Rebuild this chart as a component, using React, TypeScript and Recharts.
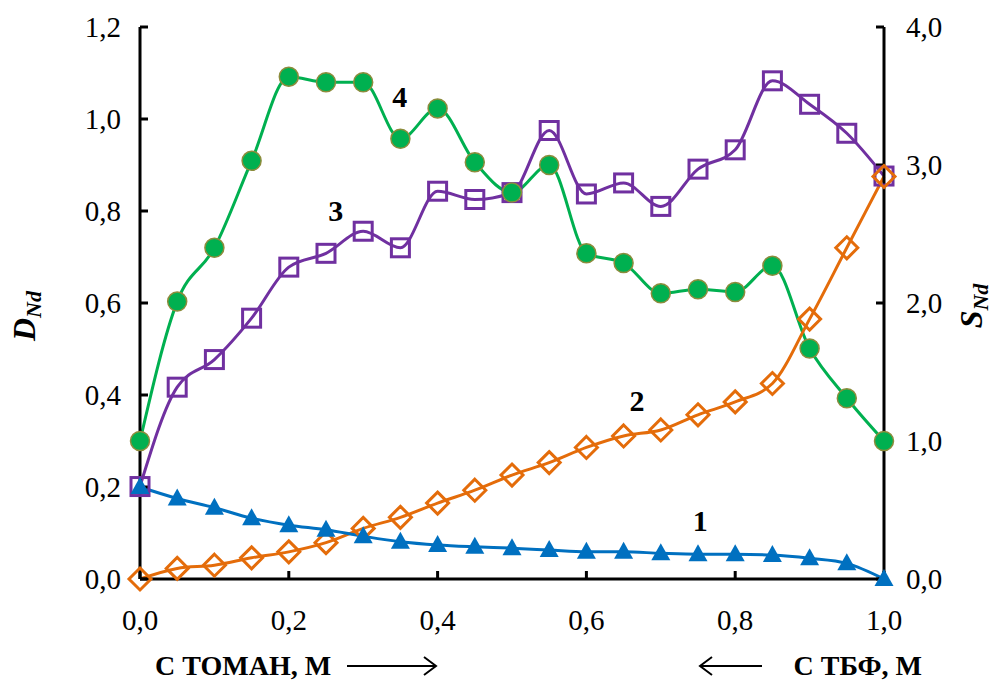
import React from 'react';
import { LineChart, Line, XAxis, YAxis, ReferenceDot } from 'recharts';

// С ТОМАН, М (0 -> 1), С ТБФ = 1 - С ТОМАН
const conc = [0, 0.05, 0.1, 0.15, 0.2, 0.25, 0.3, 0.35, 0.4, 0.45, 0.5, 0.55, 0.6, 0.65, 0.7, 0.75, 0.8, 0.85, 0.9, 0.95, 1.0];

// D_Nd (left axis)
const dNd1 = [0.2, 0.175, 0.155, 0.132, 0.117, 0.107, 0.093, 0.081, 0.074, 0.07, 0.067, 0.063, 0.059, 0.059, 0.056, 0.054, 0.054, 0.052, 0.045, 0.034, 0.0];
const dNd2 = [0.0, 0.023, 0.03, 0.046, 0.059, 0.079, 0.11, 0.134, 0.165, 0.193, 0.226, 0.253, 0.286, 0.311, 0.324, 0.357, 0.385, 0.425, 0.565, 0.72, 0.875];

// S_Nd (right axis)
const sNd3 = [0.67, 1.39, 1.59, 1.89, 2.26, 2.36, 2.52, 2.4, 2.81, 2.75, 2.8, 3.25, 2.79, 2.87, 2.7, 2.97, 3.11, 3.61, 3.44, 3.23, 2.92];
const sNd4 = [1.0, 2.01, 2.4, 3.03, 3.64, 3.6, 3.6, 3.19, 3.41, 3.02, 2.8, 3.0, 2.36, 2.29, 2.07, 2.1, 2.08, 2.27, 1.67, 1.31, 1.0];

const xTicks = [0, 0.2, 0.4, 0.6, 0.8, 1.0];
const leftTicks = [0, 0.2, 0.4, 0.6, 0.8, 1.0, 1.2];
const rightTicks = [0, 1, 2, 3, 4];

const data = conc.map((c, i) => ({
  c,
  d1: dNd1[i],
  d2: dNd2[i],
  s3: sNd3[i],
  s4: sNd4[i],
}));

const FONT = '"Liberation Serif", "Times New Roman", serif';
const fmt = (v: number) => v.toFixed(1).replace('.', ',');
const tickStyle = { fontFamily: FONT, fontSize: 29, fill: '#000' };
const axisLine = { stroke: '#000', strokeWidth: 3 };

const GREEN = '#00B050';
const PURPLE = '#7030A0';
const ORANGE = '#E46C0A';
const BLUE = '#0070C0';

const CircleDot = (p: any) => (
  <circle key={`c${p.index}`} cx={p.cx} cy={p.cy} r={9.5} fill={GREEN} stroke="#8C8C3C" strokeWidth={1.5} />
);
const SquareDot = (p: any) => (
  <rect key={`s${p.index}`} x={p.cx - 9} y={p.cy - 9} width={18} height={18} fill="none" stroke={PURPLE} strokeWidth={3} />
);
const DiamondDot = (p: any) => (
  <path
    key={`d${p.index}`}
    d={`M${p.cx},${p.cy - 11}L${p.cx + 11},${p.cy}L${p.cx},${p.cy + 11}L${p.cx - 11},${p.cy}Z`}
    fill="none"
    stroke={ORANGE}
    strokeWidth={3}
  />
);
const TriangleDot = (p: any) => (
  <path
    key={`t${p.index}`}
    d={`M${p.cx},${p.cy - 10}L${p.cx + 9.5},${p.cy + 7}L${p.cx - 9.5},${p.cy + 7}Z`}
    fill={BLUE}
  />
);

const seriesLabel = (txt: string) => (p: any) => (
  <text x={p.cx} y={p.cy} textAnchor="middle" dominantBaseline="central" fontFamily={FONT} fontSize={30} fontWeight="bold" fill="#000">
    {txt}
  </text>
);

const YLabel = (main: string, bx: number, cy: number) => () => (
  <text x={bx} y={cy} transform={`rotate(-90 ${bx} ${cy})`} textAnchor="middle" fontFamily={FONT} fontWeight="bold" fontStyle="italic" fill="#000">
    <tspan fontSize={32}>{main}</tspan>
    <tspan fontSize={22} dy={6}>Nd</tspan>
  </text>
);

const XLabel = () => (
  <g fontFamily={FONT} fontWeight="bold" fontSize={28} fill="#000">
    <text x={155} y={675}>С ТОМАН, М</text>
    <path d="M347,666 L435,666 M424,657 L436,666 L424,675" stroke="#000" strokeWidth={2} fill="none" />
    <text x={922} y={675} textAnchor="end">С ТБФ, М</text>
    <path d="M762,666 L701,666 M712,657 L700,666 L712,675" stroke="#000" strokeWidth={2} fill="none" />
  </g>
);

export default function App() {
  return (
    <div style={{ position: 'absolute', left: 0, top: 0, width: 1002, height: 684, background: '#fff' }}>
      <LineChart width={1002} height={684} data={data} margin={{ top: 27, right: 38, bottom: 65, left: 60 }}>
        <XAxis
          dataKey="c"
          type="number"
          domain={[0, 1]}
          ticks={xTicks}
          tickFormatter={fmt}
          tick={tickStyle}
          axisLine={axisLine}
          tickLine={axisLine}
          tickSize={-8}
          tickMargin={38}
          height={40}
          label={{ content: XLabel }}
        />
        <YAxis
          yAxisId="left"
          domain={[0, 1.2]}
          ticks={leftTicks}
          tickFormatter={fmt}
          tick={tickStyle}
          axisLine={axisLine}
          tickLine={axisLine}
          tickSize={-8}
          tickMargin={27}
          width={80}
          label={{ content: YLabel('D', 35, 316) }}
        />
        <YAxis
          yAxisId="right"
          orientation="right"
          domain={[0, 4]}
          ticks={rightTicks}
          tickFormatter={fmt}
          tick={tickStyle}
          axisLine={axisLine}
          tickLine={axisLine}
          tickSize={-8}
          tickMargin={30}
          width={80}
          label={{ content: YLabel('S', 982, 306) }}
        />
        <Line yAxisId="right" dataKey="s3" type="monotone" stroke={PURPLE} strokeWidth={3} dot={SquareDot} isAnimationActive={false} />
        <Line yAxisId="right" dataKey="s4" type="monotone" stroke={GREEN} strokeWidth={3} dot={CircleDot} isAnimationActive={false} />
        <Line yAxisId="left" dataKey="d2" type="monotone" stroke={ORANGE} strokeWidth={3} dot={DiamondDot} isAnimationActive={false} />
        <Line yAxisId="left" dataKey="d1" type="monotone" stroke={BLUE} strokeWidth={3} dot={TriangleDot} isAnimationActive={false} />
        <ReferenceDot yAxisId="right" x={0.349} y={3.5} r={0} shape={seriesLabel('4')} />
        <ReferenceDot yAxisId="right" x={0.263} y={2.67} r={0} shape={seriesLabel('3')} />
        <ReferenceDot yAxisId="left" x={0.668} y={0.387} r={0} shape={seriesLabel('2')} />
        <ReferenceDot yAxisId="left" x={0.753} y={0.128} r={0} shape={seriesLabel('1')} />
      </LineChart>
    </div>
  );
}
